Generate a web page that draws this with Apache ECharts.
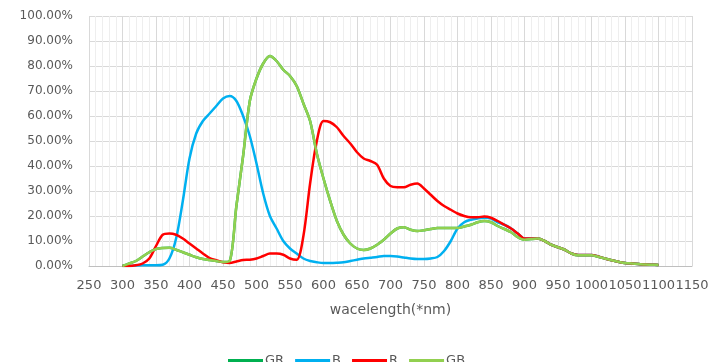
<!DOCTYPE html>
<html>
<head>
<meta charset="utf-8">
<script src="https://cdn.jsdelivr.net/npm/echarts@6/dist/echarts.min.js"></script>
<style>html,body{margin:0;padding:0;background:#fff;}#c{width:728px;height:362px;}</style>
</head>
<body>
<div id="c"></div>
<script>
const wavelengths = [300,310,320,330,340,350,360,370,380,390,400,410,420,430,440,450,460,470,480,490,500,510,520,530,540,550,560,570,580,590,600,610,620,630,640,650,660,670,680,690,700,710,720,730,740,750,760,770,780,790,800,810,820,830,840,850,860,870,880,890,900,910,920,930,940,950,960,970,980,990,1000,1010,1020,1030,1040,1050,1060,1070,1080,1090,1100];
const seriesB = [0,0,0.2,0.3,0.3,0.3,0.5,3,11,26,43,53,58,61,64,67,68,66,60,52,41,29,20,15,10,7,5,3,2,1.5,1.2,1.2,1.3,1.5,2,2.5,3,3.3,3.6,4,4,3.8,3.4,3,2.8,2.8,3,3.6,6,10,15,17.5,18.5,19,19.3,19,17.5,16.5,15,13,11,11,11,10,8.5,7.5,6.5,5,4.4,4.4,4.4,3.8,3,2.3,1.7,1.2,1,0.8,0.6,0.5,0.4];
const seriesR = [0,0,0.3,1,3,8,12.5,13,12.5,11,9,7,5,3.2,2.3,1.5,1.2,1.8,2.4,2.5,3,4,5,5,4.5,3,2.5,12,33,50,58,57.5,55.5,52,49,45.5,43,42,40.5,35,32,31.5,31.5,32.5,33,31,28.5,26,24,22.5,21,20,19.5,19.5,19.8,19.3,18,16.5,15,13,11,11,11,10,8.5,7.5,6.5,5,4.4,4.4,4.4,3.8,3,2.3,1.7,1.2,1,0.8,0.6,0.5,0.4];
const seriesGB = [0,1,2,3.8,5.5,6.8,7.2,7.3,6.5,5.5,4.5,3.5,2.8,2.4,2,1.6,2,24,44,66,75,81,84,82,78.5,76,72,65,58,45,35,26,18,12.5,9,7,6.4,7,8.5,10.5,13,15,15.5,14.5,14,14.3,14.8,15.2,15.2,15.2,15.2,15.8,16.5,17.5,18,17.5,16,14.8,13.5,11.5,10.5,10.8,11,10,8.5,7.5,6.5,5,4.3,4.3,4.3,3.7,3,2.3,1.7,1.2,1,0.8,0.6,0.5,0.4];
const seriesGR = [0,1,2,3.8,5.5,6.8,7.2,7.3,6.5,5.5,4.5,3.5,2.8,2.4,2,1.6,2,24,44,66,75,81,84,82,78.5,76,72,65,58,45,35,26,18,12.5,9,7,6.4,7,8.5,10.5,13,15,15.5,14.5,14,14.3,14.8,15.2,15.2,15.2,15.2,15.8,16.5,17.5,18,17.5,16,14.8,13.5,11.5,10.5,10.8,11,10,8.5,7.5,6.5,5,4.3,4.3,4.3,3.7,3,2.3,1.7,1.2,1,0.8,0.6,0.5,0.4];
const seriesNames = ['GR','B','R','GB'];
const seriesColors = ['#00B050','#00B0F0','#FF0000','#92D050'];
const xTitle = 'wacelength(*nm)';

const allData = [seriesGR, seriesB, seriesR, seriesGB];
const chart = echarts.init(document.getElementById('c'), null, {renderer:'canvas'});
const font = 'DejaVu Sans';
chart.setOption({
  animation: false,
  backgroundColor: '#fff',
  color: seriesColors,
  grid: {left: 89, right: 36, top: 16, bottom: 96},
  legend: {
    data: seriesNames,
    left: 223, top: 349,
    icon: 'path://M0,0 L35,0 L35,3 L0,3 Z',
    itemWidth: 35, itemHeight: 3, itemGap: 11,
    itemStyle: {borderWidth: 0},
    textStyle: {fontFamily: font, fontSize: 13, color: '#595959', padding: [0,0,0,-3]}
  },
  xAxis: {
    type: 'value', min: 250, max: 1150, interval: 50,
    name: xTitle, nameLocation: 'middle', nameGap: 37,
    nameTextStyle: {fontFamily: font, fontSize: 14, color: '#595959'},
    axisLine: {show: true, lineStyle: {color: '#BFBFBF', width: 1}},
    axisTick: {show: false},
    axisLabel: {fontFamily: font, fontSize: 13, color: '#595959', margin: 13,
      showMinLabel: true, showMaxLabel: true, hideOverlap: false,
      formatter: v => String(v)},
    splitLine: {show: true, lineStyle: {color: '#D9D9D9', width: 1}},
    minorTick: {show: false, splitNumber: 5},
    minorSplitLine: {show: true, lineStyle: {color: '#EEEEEE', width: 1}}
  },
  yAxis: {
    type: 'value', min: 0, max: 100, interval: 10,
    axisLine: {show: false}, axisTick: {show: false},
    axisLabel: {fontFamily: font, fontSize: 12, color: '#595959', margin: 16,
      formatter: v => v.toFixed(2) + '%'},
    splitLine: {show: true, lineStyle: {color: '#D9D9D9', width: 1}}
  },
  series: seriesNames.map((n, i) => ({
    name: n, type: 'line', showSymbol: false, symbol: 'none',
    smooth: 0.3,
    itemStyle: {color: seriesColors[i], borderWidth: 0},
    lineStyle: {width: 2.5, color: seriesColors[i]},
    data: wavelengths.map((w, j) => [w, allData[i][j]])
  }))
});
</script>
</body>
</html>
